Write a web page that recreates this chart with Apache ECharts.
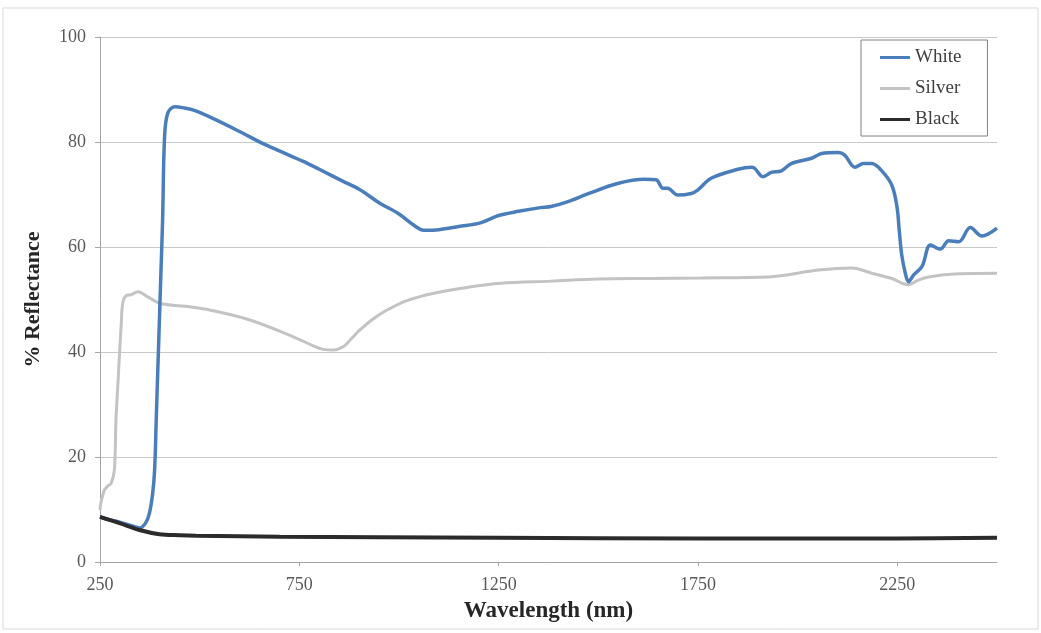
<!DOCTYPE html>
<html>
<head>
    <meta charset="UTF-8">
    <title>Reflectance</title>
    <script src="https://cdn.jsdelivr.net/npm/echarts@6/dist/echarts.min.js"></script>
    <style>
        body { margin: 0; background: #fff; }
        #container { width: 1041px; height: 633px; }
    </style>
</head>
<body>
<div id="container"></div>
<script>

    // wavelength (nm) / % reflectance
    var whiteNm = [250, 275, 299, 325, 350, 365, 374, 382, 387, 391, 395, 399, 403, 407, 412, 420, 437, 460, 483, 533,
        600, 659, 700, 760, 800, 860, 900, 953, 1000, 1040, 1062, 1100, 1150, 1204, 1250, 1300, 1355, 1381, 1422, 1473,
        1548, 1615, 1645, 1662, 1674, 1699, 1733, 1750, 1783, 1850, 1884, 1892, 1913, 1934, 1959, 1984, 2035, 2060, 2102, 2118,
        2144, 2165, 2186, 2211, 2236, 2249, 2255, 2261, 2270, 2278, 2291, 2312, 2333, 2358, 2379, 2404, 2433, 2462, 2500];
    var whiteVal = [8.6, 8.0, 7.6, 7.0, 6.5, 7.5, 9.3, 13, 17.5, 27, 36.6, 46, 55.6, 65, 81, 85.5, 86.7, 86.5, 86.1, 84.5,
        82.0, 79.7, 78.3, 76.3, 74.8, 72.5, 71, 68.3, 66.3, 64.0, 63.2, 63.3, 63.9, 64.6, 66.0, 66.8, 67.5, 67.7, 68.6, 70.1,
        72.1, 72.9, 72.8, 71.2, 71.2, 69.9, 70.2, 70.9, 73.1, 74.8, 75.2, 75.0, 73.4, 74.2, 74.5, 75.9, 76.9, 77.8, 78.0, 77.5,
        75.2, 75.9, 75.9, 74.5, 71.8, 67.7, 63, 58.5, 55, 53.4, 54.7, 56.3, 60.4, 59.6, 61.2, 61.0, 63.7, 62.1, 63.6];

    var silverNm = [250, 252, 261, 270, 278, 286, 290, 295, 299, 303, 307, 315, 328, 345, 370, 399, 475, 525, 626, 735,
        790, 810, 835, 860, 880, 902, 935, 970, 1020, 1087, 1170, 1255, 1381, 1500, 1632, 1758, 1926, 2052, 2136, 2186,
        2236, 2265, 2278, 2300, 2328, 2404, 2500];
    var silverVal = [9.9, 11.2, 13.7, 14.5, 15, 17.5, 27, 34, 39.7, 45, 49.3, 50.7, 50.9, 51.5, 50.5, 49.3, 48.6, 48, 46.1, 42.9,
        41, 40.5, 40.4, 41, 42.5, 44.2, 46.3, 48, 49.8, 51.2, 52.3, 53.1, 53.5, 53.9, 54.0, 54.1, 54.3, 55.6, 56.0, 55.0,
        54.0, 53.0, 52.8, 53.6, 54.3, 54.9, 55];

    var blackNm = [250, 299, 349, 399, 450, 491, 600, 701, 953, 1250, 1750, 2250, 2500];
    var blackVal = [8.6, 7.4, 6.1, 5.3, 5.1, 5.0, 4.9, 4.8, 4.7, 4.6, 4.5, 4.5, 4.6];

    var xTicks = [250, 750, 1250, 1750, 2250];

    function pairs(xs, ys) {
        var out = [];
        for (var i = 0; i < xs.length; i++) {
            out.push([xs[i], ys[i]]);
        }
        return out;
    }

    var serif = 'Liberation Serif';

    var mychart = echarts.init(document.getElementById("container"));

    var option = {
        animation: false,
        backgroundColor: '#fff',
        graphic: [{
            type: 'rect',
            shape: { x: 3, y: 8, width: 1035, height: 621 },
            style: { fill: 'none', stroke: '#d9d9d9', lineWidth: 1 }
        }],
        grid: { left: 100, right: 44, top: 37, bottom: 71 },
        legend: {
            orient: 'vertical',
            left: 861,
            top: 40,
            padding: [8, 26, 7, 19],
            itemGap: 12,
            itemWidth: 30,
            itemHeight: 3,
            icon: 'rect',
            borderColor: '#808080',
            borderWidth: 1,
            textStyle: { fontFamily: serif, fontSize: 19, color: '#404040' },
            data: ['White', 'Silver', 'Black']
        },
        xAxis: {
            type: 'value',
            min: 250,
            max: 2500,
            interval: 500,
            name: 'Wavelength (nm)',
            nameLocation: 'middle',
            nameGap: 38,
            nameTextStyle: { fontFamily: serif, fontSize: 23, fontWeight: 'bold', color: '#262626' },
            axisLine: { lineStyle: { color: '#a6a6a6' } },
            axisTick: { show: true, length: 4, customValues: xTicks, lineStyle: { color: '#a6a6a6' } },
            axisLabel: {
                customValues: xTicks, margin: 14, fontFamily: serif, fontSize: 18, color: '#595959',
                formatter: function (v) { return String(v); }
            },
            splitLine: { show: false }
        },
        yAxis: {
            type: 'value',
            min: 0,
            max: 100,
            interval: 20,
            name: '% Reflectance',
            nameLocation: 'middle',
            nameGap: 56,
            nameTextStyle: { fontFamily: serif, fontSize: 22, fontWeight: 'bold', color: '#262626' },
            axisLine: { show: true, lineStyle: { color: '#a6a6a6' } },
            axisTick: { show: true, length: 5, lineStyle: { color: '#a6a6a6' } },
            axisLabel: { margin: 14, fontFamily: serif, fontSize: 18, color: '#595959' },
            splitLine: { lineStyle: { color: '#c8c8c8', width: 1 } }
        },
        series: [{
            name: 'White',
            type: 'line',
            data: pairs(whiteNm, whiteVal),
            showSymbol: false,
            smooth: 0.35,
            color: '#4a7ebb',
            lineStyle: { width: 3.5 },
            z: 3
        }, {
            name: 'Silver',
            type: 'line',
            data: pairs(silverNm, silverVal),
            showSymbol: false,
            smooth: 0.35,
            color: '#c3c3c3',
            lineStyle: { width: 3 },
            z: 2
        }, {
            name: 'Black',
            type: 'line',
            data: pairs(blackNm, blackVal),
            showSymbol: false,
            smooth: 0.35,
            color: '#2b2b2b',
            lineStyle: { width: 4 },
            z: 4
        }]
    };

    mychart.setOption(option);

</script>
</body>
</html>
